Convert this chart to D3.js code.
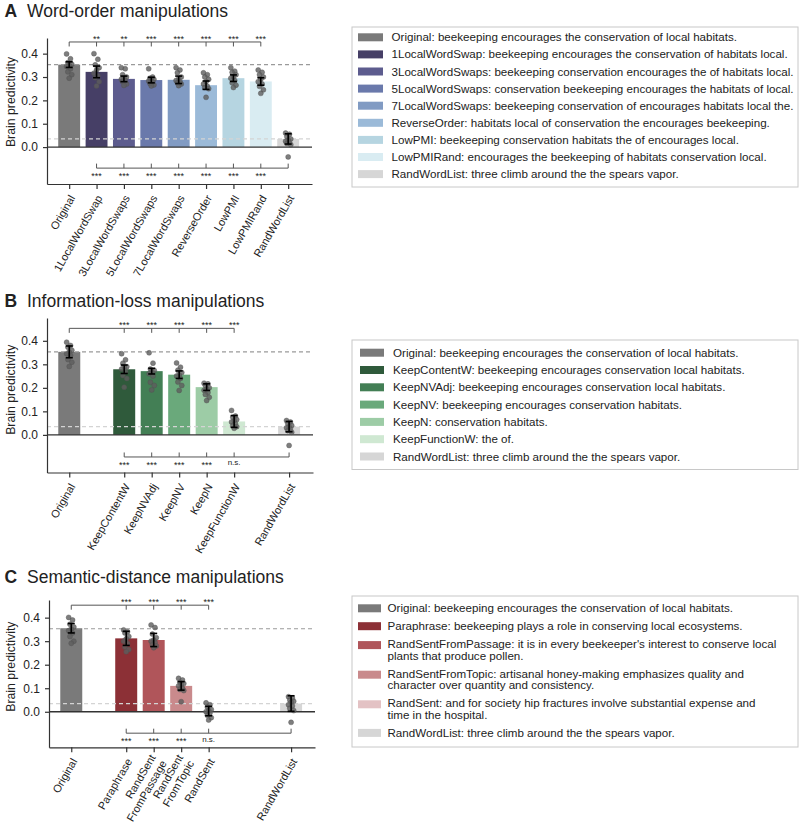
<!DOCTYPE html>
<html><head><meta charset="utf-8">
<script src="https://cdn.jsdelivr.net/npm/d3@7"></script>
<style>
body{margin:0;background:#fff}
text{font-family:"Liberation Sans",Arial,Helvetica,sans-serif;fill:#222}
</style>
</head><body><script>
// ---------------- DATA ----------------
// Panel A: word-order manipulations
const catsA = ["Original","1LocalWordSwap","3LocalWordSwaps","5LocalWordSwaps","7LocalWordSwaps","ReverseOrder","LowPMI","LowPMIRand","RandWordList"];
const slotsA = [0,1,2,3,4,5,6,7,8];
const meanA = [0.353,0.322,0.292,0.287,0.288,0.265,0.295,0.281,0.035];
const semA  = [0.012,0.025,0.012,0.012,0.016,0.018,0.014,0.016,0.022];
const dotsA = [
  [0.399,0.378,0.362,0.355,0.350,0.345,0.335,0.322,0.310,0.295],
  [0.400,0.376,0.352,0.340,0.330,0.316,0.305,0.297,0.280,0.262],
  [0.340,0.335,0.310,0.300,0.295,0.290,0.285,0.280,0.270,0.264],
  [0.335,0.300,0.295,0.290,0.287,0.283,0.278,0.272,0.266,0.262],
  [0.340,0.330,0.318,0.300,0.292,0.285,0.280,0.275,0.270,0.263],
  [0.318,0.310,0.300,0.290,0.280,0.270,0.260,0.255,0.250,0.213],
  [0.340,0.325,0.320,0.310,0.300,0.295,0.285,0.275,0.265,0.255],
  [0.330,0.320,0.310,0.300,0.290,0.280,0.270,0.260,0.245,0.230],
  [0.060,0.055,0.045,0.035,0.030,0.025,0.020,0.015,0.010,-0.042]
];
const colorsA = ["#7a7a7a","#463f66","#5d5c8e","#6a79ab","#819bc3","#9bbad8","#b6d5e1","#d9ecf2","#d6d6d6"];
const starsTopA = ["**","**","***","***","***","***","***"];
const starsBotA = ["***","***","***","***","***","***","***"];
const legendA = [
  "Original: beekeeping encourages the conservation of local habitats.",
  "1LocalWordSwap: beekeeping encourages the conservation of habitats local.",
  "3LocalWordSwaps: beekeeping conservation encourages the of habitats local.",
  "5LocalWordSwaps: conservation beekeeping encourages the habitats of local.",
  "7LocalWordSwaps: beekeeping conservation of encourages habitats local the.",
  "ReverseOrder: habitats local of conservation the encourages beekeeping.",
  "LowPMI: beekeeping conservation habitats the of encourages local.",
  "LowPMIRand: encourages the beekeeping of habitats conservation local.",
  "RandWordList: three climb around the the spears vapor."
];

// Panel B: information-loss manipulations
const catsB = ["Original","KeepContentW","KeepNVAdj","KeepNV","KeepN","KeepFunctionW","RandWordList"];
const slotsB = [0,2,3,4,5,6,8];
const meanB = [0.353,0.279,0.271,0.256,0.203,0.057,0.035];
const semB  = [0.025,0.018,0.012,0.016,0.014,0.025,0.022];
const dotsB = [
  [0.394,0.380,0.373,0.360,0.352,0.345,0.338,0.320,0.309,0.291],
  [0.345,0.319,0.305,0.290,0.288,0.280,0.270,0.252,0.240,0.203],
  [0.349,0.305,0.280,0.274,0.270,0.260,0.250,0.224,0.210,0.191],
  [0.306,0.288,0.275,0.265,0.255,0.250,0.240,0.225,0.210,0.189],
  [0.220,0.217,0.210,0.200,0.195,0.190,0.180,0.172,0.160,0.146],
  [0.104,0.080,0.075,0.065,0.060,0.055,0.048,0.040,0.035,0.028],
  [0.061,0.055,0.048,0.040,0.035,0.030,0.025,0.018,0.011,-0.045]
];
const colorsB = ["#7a7a7a","#2f5a3b","#437f55","#6aa97b","#9dcca6","#cfe8d2","#d6d6d6"];
const starsTopB = ["***","***","***","***","***"];
const starsBotB = ["***","***","***","***","n.s."];
const legendB = [
  "Original: beekeeping encourages the conservation of local habitats.",
  "KeepContentW: beekeeping encourages conservation local habitats.",
  "KeepNVAdj: beekeeping encourages conservation local habitats.",
  "KeepNV: beekeeping encourages conservation habitats.",
  "KeepN: conservation habitats.",
  "KeepFunctionW: the of.",
  "RandWordList: three climb around the the spears vapor."
];

// Panel C: semantic-distance manipulations
const catsC = ["Original","Paraphrase","RandSent\nFromPassage","RandSent\nFromTopic","RandSent","RandWordList"];
const slotsC = [0,2,3,4,5,8];
const meanC = [0.355,0.312,0.305,0.110,0.003,0.035];
const semC  = [0.020,0.030,0.028,0.018,0.020,0.033];
const dotsC = [
  [0.401,0.390,0.372,0.360,0.352,0.345,0.335,0.320,0.300,0.291],
  [0.348,0.340,0.335,0.320,0.310,0.300,0.290,0.275,0.265,0.255],
  [0.369,0.358,0.330,0.315,0.305,0.300,0.295,0.285,0.280,0.272],
  [0.142,0.135,0.125,0.120,0.115,0.110,0.100,0.095,0.090,0.043],
  [0.038,0.030,0.020,0.010,0.005,0.000,-0.005,-0.015,-0.025,-0.035],
  [0.064,0.058,0.050,0.045,0.040,0.030,0.025,0.015,0.005,-0.045]
];
const colorsC = ["#7a7a7a","#8c3036","#b0555a","#c98a8c","#e3c2c4","#d6d6d6"];
const starsTopC = ["***","***","***","***"];
const starsBotC = ["***","***","***","n.s."];
const legendC = [
  ["Original: beekeeping encourages the conservation of local habitats."],
  ["Paraphrase: beekeeping plays a role in conserving local ecosystems."],
  ["RandSentFromPassage: it is in every beekeeper's interest to conserve local","plants that produce pollen."],
  ["RandSentFromTopic: artisanal honey-making emphasizes quality and","character over quantity and consistency."],
  ["RandSent: and for society hip fractures involve substantial expense and","time in the hospital."],
  ["RandWordList: three climb around the the spears vapor."]
];

const yTicks = [0,0.1,0.2,0.3,0.4];
const refHigh = 0.353, refLow = 0.035;

// ---------------- DRAW ----------------
const svg = d3.select("body").append("svg").attr("width",800).attr("height",824);

function panel(c){
  const g = svg.append("g");
  const x = d3.scaleLinear().domain([-0.81,8.87]).range([c.left,c.right]);
  const y = d3.scaleLinear().domain(c.yDomain).range([c.bottom,c.top]);
  const bw = x(0.8)-x(0);

  g.append("text").attr("x",4.5).attr("y",c.titleY).attr("font-size",17.5).attr("font-weight","bold").text(c.letter);
  g.append("text").attr("x",27).attr("y",c.titleY).attr("font-size",17.5).text(c.title);

  // bars
  g.selectAll("rect.bar").data(c.means).join("rect").attr("class","bar")
    .attr("x",(d,i)=>x(c.slots[i])-bw/2)
    .attr("y",d=>y(Math.max(0,d)))
    .attr("width",bw)
    .attr("height",d=>Math.abs(y(d)-y(0)))
    .attr("fill",(d,i)=>c.colors[i]);

  // reference dashed lines
  g.append("line").attr("x1",c.left).attr("x2",c.right).attr("y1",y(refHigh)).attr("y2",y(refHigh))
    .attr("stroke","#9a9a9a").attr("stroke-width",1.1).attr("stroke-dasharray","4,3");
  g.append("line").attr("x1",c.left).attr("x2",c.right).attr("y1",y(refLow)).attr("y2",y(refLow))
    .attr("stroke","#d4d4d4").attr("stroke-width",1.3).attr("stroke-dasharray","4,3");

  // zero line
  g.append("line").attr("x1",c.left).attr("x2",c.right).attr("y1",y(0)).attr("y2",y(0))
    .attr("stroke","#333").attr("stroke-width",1.3);

  // dots
  c.dots.forEach((arr,i)=>{
    g.selectAll(null).data(arr).join("circle")
      .attr("cx",(d,j)=>x(c.slots[i]) + (((j*3)%5)-2)*1.3)
      .attr("cy",d=>y(d))
      .attr("r",2.5)
      .attr("fill","#5e5e5e").attr("fill-opacity",0.8)
      .attr("stroke","#505050").attr("stroke-width",0.4);
  });

  // error bars
  c.means.forEach((m,i)=>{
    const cx = x(c.slots[i]), s = c.sems[i];
    const eg = g.append("g").attr("stroke","#000").attr("stroke-width",1.6);
    eg.append("line").attr("x1",cx).attr("x2",cx).attr("y1",y(m-s)).attr("y2",y(m+s));
    eg.append("line").attr("x1",cx-3.5).attr("x2",cx+3.5).attr("y1",y(m-s)).attr("y2",y(m-s));
    eg.append("line").attr("x1",cx-3.5).attr("x2",cx+3.5).attr("y1",y(m+s)).attr("y2",y(m+s));
  });

  // axes
  const ya = d3.axisLeft(y).tickValues(yTicks).tickFormat(d3.format(".1f")).tickSize(4).tickSizeOuter(0).tickPadding(5);
  const yg = g.append("g").attr("transform",`translate(${c.left},0)`).call(ya);
  yg.selectAll("path,line").attr("stroke","#333").attr("stroke-width",1.2);
  yg.selectAll("text").attr("font-size",12).attr("fill","#222").style("font-family",'"Liberation Sans",Arial,sans-serif');

  const xa = d3.axisBottom(x).tickValues(c.slots).tickFormat("").tickSize(5).tickSizeOuter(0);
  const xg = g.append("g").attr("transform",`translate(0,${c.bottom})`).call(xa);
  xg.selectAll("path,line").attr("stroke","#333").attr("stroke-width",1.2);

  // x labels
  c.cats.forEach((lab,i)=>{
    const lines = lab.split("\n");
    const cx = x(c.slots[i]);
    lines.forEach((ln,k)=>{
      const ax = cx + 3 + (lines.length>1 ? (k===0?-4:7) : 0);
      const ay = c.bottom + 12 + (lines.length>1 ? (k===0?-4:2) : 0);
      g.append("text").attr("font-size",11).attr("text-anchor","end").attr("dy","0.35em")
        .attr("transform",`translate(${ax},${ay}) rotate(-60)`).text(ln);
    });
  });

  // y label
  g.append("text").attr("font-size",12.3).attr("text-anchor","start")
    .attr("transform",`translate(15,${y(0)}) rotate(-90)`).text("Brain predictivity");

  // significance brackets
  function bracket(fromSlot,toSlot,tickSlots,val,dir,labels,labelDy){
    const by = y(val);
    const bg = g.append("g").attr("stroke","#555").attr("stroke-width",1).attr("fill","none");
    bg.append("line").attr("x1",x(fromSlot)).attr("x2",x(toSlot)).attr("y1",by).attr("y2",by);
    tickSlots.forEach(s=>{
      bg.append("line").attr("x1",x(s)).attr("x2",x(s)).attr("y1",by).attr("y2",by+dir*4.5);
    });
    labels.forEach((t,k)=>{
      g.append("text").attr("x",x(c.compSlots[k])).attr("y",by+labelDy + (t==="n.s."?-2.5:0))
        .attr("text-anchor","middle").attr("font-size",t==="n.s."?8:9).attr("fill","#222").text(t);
    });
  }
  const last = c.compSlots[c.compSlots.length-1];
  bracket(0,last,[0].concat(c.compSlots),c.topBr,1,c.starsTop,0);
  bracket(c.compSlots[0],8,c.compSlots.concat([8]),c.botBr,-1,c.starsBot,11);

  // legend
  const L = c.legend;
  g.append("rect").attr("x",L.x).attr("y",L.y).attr("width",L.w).attr("height",L.h)
    .attr("fill","#fff").attr("stroke","#c8c8c8").attr("stroke-width",1);
  let ry = L.y0;
  c.legendTexts.forEach((txt,i)=>{
    const lines = Array.isArray(txt)?txt:[txt];
    g.append("rect").attr("x",L.sx).attr("y",ry-4+(lines.length>1?1:0)).attr("width",L.sw).attr("height",8).attr("fill",c.colors[i]);
    lines.forEach((ln,k)=>{
      g.append("text").attr("x",L.tx).attr("y",ry+k*11.7).attr("dy","0.35em").attr("font-size",11.6).text(ln);
    });
    ry += (lines.length-1)*11.7 + L.step;
  });
}

panel({letter:"A",title:"Word-order manipulations",titleY:17,
  left:47,right:312,top:38,bottom:184,yDomain:[-0.158,0.467],
  cats:catsA,slots:slotsA,means:meanA,sems:semA,dots:dotsA,colors:colorsA,
  compSlots:[1,2,3,4,5,6,7],starsTop:starsTopA,starsBot:starsBotA,topBr:0.45,botBr:-0.09,
  legendTexts:legendA,legend:{x:352,y:27,w:446,h:160,y0:37.3,step:17.1,sx:358,sw:25,tx:391.5}});

panel({letter:"B",title:"Information-loss manipulations",titleY:306.5,
  left:47,right:313,top:318,bottom:472.5,yDomain:[-0.16,0.497],
  cats:catsB,slots:slotsB,means:meanB,sems:semB,dots:dotsB,colors:colorsB,
  compSlots:[2,3,4,5,6],starsTop:starsTopB,starsBot:starsBotB,topBr:0.453,botBr:-0.094,
  legendTexts:legendB,legend:{x:352,y:340,w:446,h:129.5,y0:352.7,step:17.3,sx:360,sw:24,tx:393}});

panel({letter:"C",title:"Semantic-distance manipulations",titleY:583,
  left:49,right:315,top:600,bottom:747.3,yDomain:[-0.151,0.475],
  cats:catsC,slots:slotsC,means:meanC,sems:semC,dots:dotsC,colors:colorsC,
  compSlots:[2,3,4,5],starsTop:starsTopC,starsBot:starsBotC,topBr:0.453,botBr:-0.091,
  legendTexts:legendC,legend:{x:352,y:596,w:446,h:151,y0:608.3,step:17.9,sx:358,sw:23,tx:387.5}});
</script></body></html>
